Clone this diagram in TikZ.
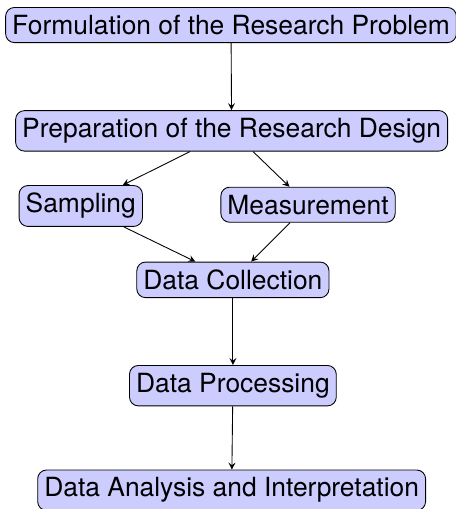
\documentclass[tikz,border=0pt]{standalone}
\usepackage{fontspec}
\setmainfont{TeX Gyre Heros}
\usepackage{tikz}
\usetikzlibrary{arrows}

\begin{document}
\begin{tikzpicture}[box/.style={draw,rounded corners,fill=blue!20,font=\fontsize{12}{14}\selectfont,inner xsep=3pt,inner ysep=3.5pt},>=stealth]
      \useasboundingbox (0,0) rectangle (7.28,-8.13);
      \node[box] (form) at (3.69,-0.40) {Formulation of the Research Problem};
      \node[box] (prep) at (3.70,-2.09) {Preparation of the Research Design};
      \node[box] (samp) at (1.29,-3.29) {Sampling};
      \node[box] (meas) at (4.92,-3.27) {Measurement};
      \node[box] (coll) at (3.72,-4.47) {Data Collection};
      \node[box] (proc) at (3.72,-6.16) {Data Processing};
      \node[box] (anal) at (3.70,-7.83) {Data Analysis and Interpretation};
      \draw[->] (form) -- (prep);
      \draw[->] (prep) -- (samp);
      \draw[->] (prep) -- (meas);
      \draw[->] (samp) -- (coll);
      \draw[->] (meas) -- (coll);
      \draw[->] (coll) -- (proc);
      \draw[->] (proc) -- (anal);
\end{tikzpicture}
\end{document}
